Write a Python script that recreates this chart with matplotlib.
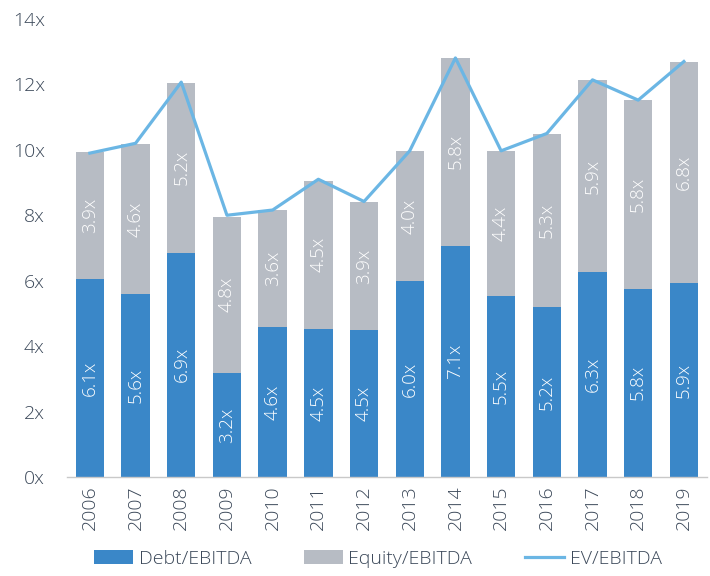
import matplotlib
matplotlib.use("Agg")
import matplotlib.pyplot as plt

years = ["2006", "2007", "2008", "2009", "2010", "2011", "2012",
         "2013", "2014", "2015", "2016", "2017", "2018", "2019"]
debt = [6.06, 5.59, 6.86, 3.18, 4.59, 4.52, 4.49, 5.99, 7.06, 5.52, 5.20, 6.27, 5.76, 5.93]
equity = [3.86, 4.58, 5.19, 4.78, 3.56, 4.54, 3.91, 3.98, 5.76, 4.44, 5.29, 5.86, 5.76, 6.76]
ev = [9.90, 10.20, 12.07, 8.00, 8.16, 9.10, 8.42, 9.97, 12.81, 9.97, 10.50, 12.14, 11.52, 12.70]
yticks = [0, 2, 4, 6, 8, 10, 12, 14]
ytick_labels = ["0x", "2x", "4x", "6x", "8x", "10x", "12x", "14x"]

BLUE = "#3A87C8"
GRAY = "#B7BCC4"
LINE = "#6BB6E4"
TEXT = "#3B4859"

plt.rcParams["font.family"] = ["Open Sans", "DejaVu Sans"]
plt.rcParams["font.weight"] = "light"

fig = plt.figure(figsize=(7.10, 5.76), dpi=100)
ax = fig.add_axes([0.0944, 0.172, 0.901, 0.795])

x = list(range(len(years)))
w = 0.62
b1 = ax.bar(x, debt, width=w, color=BLUE, label="Debt/EBITDA", zorder=2)
b2 = ax.bar(x, equity, width=w, bottom=debt, color=GRAY, label="Equity/EBITDA", zorder=2)
l1, = ax.plot(x, ev, color=LINE, lw=2.3, label="EV/EBITDA", zorder=3)

for xi, d, e in zip(x, debt, equity):
    ax.text(xi, d / 2, f"{d:.1f}x", rotation=90, ha="center", va="center",
            color="white", fontsize=13.5, fontweight="light", zorder=4)
    ax.text(xi, d + e / 2, f"{e:.1f}x", rotation=90, ha="center", va="center",
            color="white", fontsize=13.5, fontweight="light", zorder=4)

ax.set_xlim(-0.5, len(years) - 0.5)
ax.set_ylim(0, 14)
ax.set_yticks(yticks)
ax.set_yticklabels(ytick_labels)
ax.set_xticks(x)
ax.set_xticklabels(years, rotation=90)
ax.tick_params(axis="both", length=0, labelsize=14, colors=TEXT)
ax.tick_params(axis="y", pad=16)
ax.tick_params(axis="x", pad=6)
for s in ["top", "right", "left"]:
    ax.spines[s].set_visible(False)
ax.spines["bottom"].set_color("#C9C9C9")
ax.spines["bottom"].set_linewidth(1.0)

leg = fig.legend([b1, b2, l1], ["Debt/EBITDA", "Equity/EBITDA", "EV/EBITDA"],
                 loc="center", bbox_to_anchor=(0.532, 0.03),
                 ncol=3, frameon=False, fontsize=14, handlelength=2.0,
                 handleheight=0.7, handletextpad=0.3, columnspacing=2.7)
for t in leg.get_texts():
    t.set_color(TEXT)

fig.savefig("out.png", dpi=100)
